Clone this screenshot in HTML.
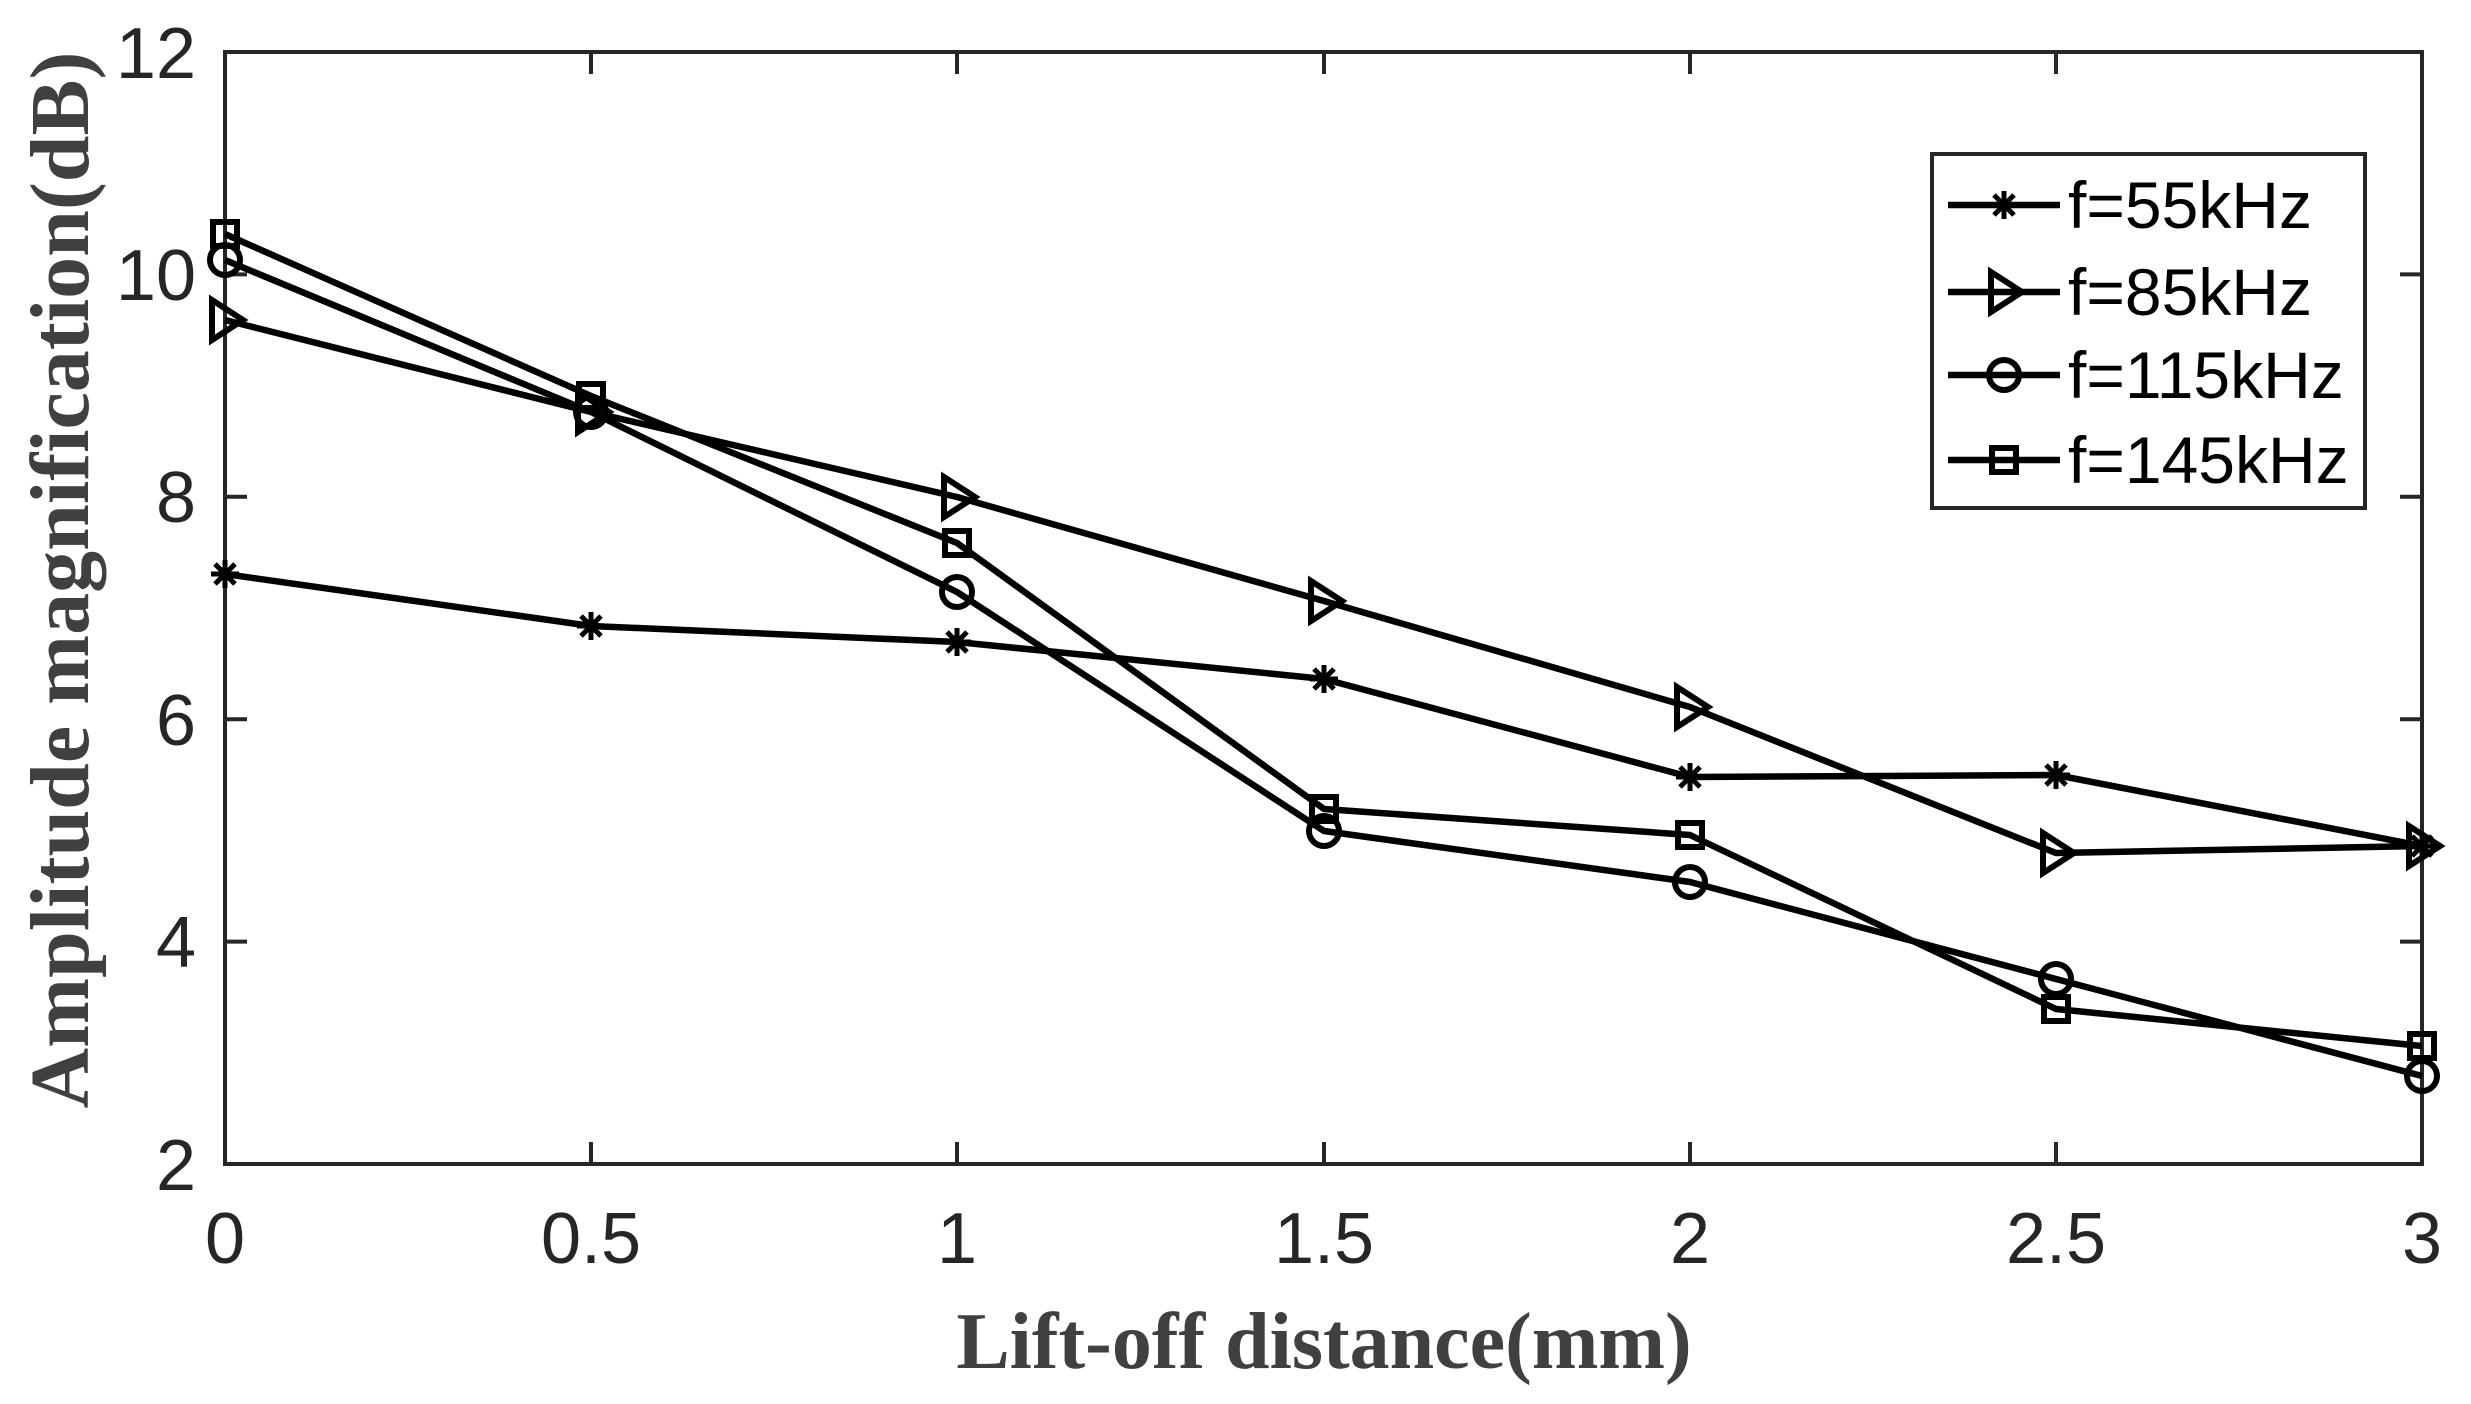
<!DOCTYPE html>
<html><head><style>body{margin:0;background:#fff}</style></head><body>
<svg width="2471" height="1399" xmlns="http://www.w3.org/2000/svg">
<rect width="2471" height="1399" fill="#fff"/>
<g stroke="#262626" stroke-width="4" fill="none">
<rect x="225" y="52" width="2197" height="1112"/>
<path d="M225,1164v-22M591,1164v-22M957,1164v-22M1324,1164v-22M1690,1164v-22M2056,1164v-22M2422,1164v-22
M591,52v22M957,52v22M1324,52v22M1690,52v22M2056,52v22
M225,1164h22M225,941.6h22M225,719.2h22M225,496.8h22M225,274.4h22M225,52h22
M2422,941.6h-22M2422,719.2h-22M2422,496.8h-22M2422,274.4h-22"/>
</g>
<g font-family="Liberation Sans, sans-serif" font-size="72" fill="#262626" text-anchor="end">
<text x="196" y="1190">2</text><text x="196" y="967">4</text><text x="196" y="745">6</text>
<text x="196" y="522">8</text><text x="196" y="300">10</text><text x="196" y="78">12</text>
</g>
<g font-family="Liberation Sans, sans-serif" font-size="72" fill="#262626" text-anchor="middle">
<text x="225" y="1263">0</text><text x="591" y="1263">0.5</text><text x="957" y="1263">1</text>
<text x="1324" y="1263">1.5</text><text x="1690" y="1263">2</text><text x="2056" y="1263">2.5</text><text x="2422" y="1263">3</text>
</g>
<text x="1324" y="1368" font-family="Liberation Serif, serif" font-weight="bold" font-size="80" fill="#404040" text-anchor="middle">Lift-off distance(mm)</text>
<text transform="translate(88,580) rotate(-90)" font-family="Liberation Serif, serif" font-weight="bold" font-size="84" fill="#404040" text-anchor="middle">Amplitude magnification(dB)</text>
<defs>
<g id="ast" stroke="#000" stroke-width="5"><path d="M-14,0h28M0,-14v28M-10,-10l20,20M-10,10l20,-20"/></g>
<g id="tri" stroke="#000" stroke-width="6" fill="none"><path d="M-13,-20L18,0L-13,20Z"/></g>
<g id="cir" stroke="#000" stroke-width="6" fill="none"><circle r="15"/></g>
<g id="sq" stroke="#000" stroke-width="6" fill="none"><rect x="-12" y="-12" width="24" height="24"/></g>
</defs>
<g stroke="#000" stroke-width="6.5" fill="none" stroke-linejoin="round">
<polyline points="225,574 591,626 957,642 1324,679 1690,777 2056,775 2422,846"/>
<polyline points="225,320 591,412 957,497 1324,601 1690,707 2056,853 2422,846"/>
<polyline points="225,260 591,412 957,592 1324,831 1690,882 2056,979 2422,1076"/>
<polyline points="225,234 591,396 957,543 1324,809 1690,835 2056,1009 2422,1046"/>
</g>
<g>
<use href="#ast" x="225" y="574"/><use href="#ast" x="591" y="626"/><use href="#ast" x="957" y="642"/><use href="#ast" x="1324" y="679"/><use href="#ast" x="1690" y="777"/><use href="#ast" x="2056" y="775"/><use href="#ast" x="2422" y="846"/>
<use href="#tri" x="225" y="320"/><use href="#tri" x="591" y="412"/><use href="#tri" x="957" y="497"/><use href="#tri" x="1324" y="601"/><use href="#tri" x="1690" y="707"/><use href="#tri" x="2056" y="853"/><use href="#tri" x="2422" y="846"/>
<use href="#cir" x="225" y="260"/><use href="#cir" x="591" y="412"/><use href="#cir" x="957" y="592"/><use href="#cir" x="1324" y="831"/><use href="#cir" x="1690" y="882"/><use href="#cir" x="2056" y="979"/><use href="#cir" x="2422" y="1076"/>
<use href="#sq" x="225" y="234"/><use href="#sq" x="591" y="396"/><use href="#sq" x="957" y="543"/><use href="#sq" x="1324" y="809"/><use href="#sq" x="1690" y="835"/><use href="#sq" x="2056" y="1009"/><use href="#sq" x="2422" y="1046"/>
</g>
<rect x="1932" y="154" width="433" height="354" fill="#fff" stroke="#262626" stroke-width="4"/>
<g stroke="#000" stroke-width="6.5"><path d="M1948,205h112M1948,292h112M1948,375h112M1948,460h112"/></g>
<use href="#ast" x="2004" y="205"/><use href="#tri" x="2004" y="292"/><use href="#cir" x="2004" y="375"/><use href="#sq" x="2004" y="460"/>
<g font-family="Liberation Sans, sans-serif" font-size="66" fill="#000">
<text x="2068" y="228">f=55kHz</text><text x="2068" y="315">f=85kHz</text>
<text x="2068" y="398">f=115kHz</text><text x="2068" y="483">f=145kHz</text>
</g>
</svg>
</body></html>
